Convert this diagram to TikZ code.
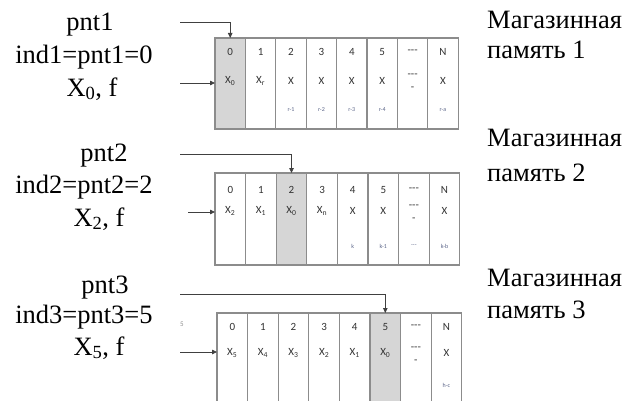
\documentclass[tikz,border=0pt]{standalone}
\usepackage{fontspec}
\setmainfont{Liberation Serif}
\newfontfamily\cellfont{Carlito}
\usetikzlibrary{arrows.meta}
\definecolor{boxgray}{HTML}{8C8C8C}
\definecolor{cellgray}{HTML}{D6D6D6}
\definecolor{celltxt}{HTML}{333333}
\definecolor{subtxt}{HTML}{5A6488}
\definecolor{arrowc}{HTML}{404040}
\newcommand\xsub[1]{X\textsubscript{#1}}
\newcommand\memory[6]{%
  \foreach \i in {0,...,7}{%
    \ifnum\i=#6\relax\def\cf{cellgray}\else\def\cf{white}\fi
    \node[cellbox,fill=\cf,minimum width=#4pt,minimum height=#5pt] (#1c\i) at ({#2+(\i+0.5)*#4},{#3+#5/2}) {};
  }}
\begin{document}
\begin{tikzpicture}[x=1pt,y=-1pt,
  cellbox/.style={draw=boxgray,line width=1.2pt,inner sep=0pt,outer sep=0pt},
  numtxt/.style={font=\cellfont\fontsize{11}{11}\selectfont,text=celltxt,inner sep=0pt},
  smalltxt/.style={font=\cellfont\fontsize{6}{6}\selectfont,text=subtxt,inner sep=0pt},
  lefttxt/.style={font=\fontsize{26.5}{30}\selectfont,anchor=base,inner sep=0pt},
  righttxt/.style={font=\fontsize{26.5}{30}\selectfont,anchor=base west,inner sep=0pt},
  arr/.style={draw=arrowc,line width=0.8pt,-{Triangle[length=5pt,width=4.5pt]}}]
\useasboundingbox (0,0) rectangle (631,401);
\fill[white] (0,0) rectangle (631,401);

% ---------- memory 1
\memory{m1}{215}{38}{30.4}{91}{0}
\foreach \i/\t in {0/0,1/1,2/2,3/3,4/4,5/5,6/---,7/N}
  \node[numtxt] (m1n\i) at ([yshift=-14pt]m1c\i.north) {\t};
\foreach \i/\t in {0/{\xsub{0}},1/{\xsub{r}},2/X,3/X,4/X,5/X,7/X}
  \node[numtxt] (m1x\i) at ([yshift=-43pt]m1c\i.north) {\t};
\node[numtxt] (m1x6) at ([yshift=-38pt]m1c6.north) {---};
\node[numtxt] (m1d6) at ([yshift=-51pt]m1c6.north) {-};
\foreach \i/\t in {2/r-1,3/r-2,4/r-3,5/r-4,7/r-a}
  \node[smalltxt] (m1s\i) at ([yshift=-72pt]m1c\i.north) {\t};

% ---------- memory 2
\memory{m2}{215}{173}{30.6}{92}{2}
\foreach \i/\t in {0/0,1/1,2/2,3/3,4/4,5/5,6/---,7/N}
  \node[numtxt] (m2n\i) at ([yshift=-17pt]m2c\i.north) {\t};
\foreach \i/\t in {0/{\xsub{2}},1/{\xsub{1}},2/{\xsub{0}},3/{\xsub{n}},4/X,5/X,7/X}
  \node[numtxt] (m2x\i) at ([yshift=-38pt]m2c\i.north) {\t};
\node[numtxt] (m2x6) at ([yshift=-34pt]m2c6.north) {---};
\node[numtxt] (m2d6) at ([yshift=-47pt]m2c6.north) {-};
\foreach \i/\t in {4/k,5/k-1,6/---,7/k-b}
  \node[smalltxt] (m2s\i) at ([yshift=-73pt]m2c\i.north) {\t};

% ---------- memory 3
\memory{m3}{217}{313}{30.6}{92}{5}
\foreach \i/\t in {0/0,1/1,2/2,3/3,4/4,5/5,6/---,7/N}
  \node[numtxt] (m3n\i) at ([yshift=-14pt]m3c\i.north) {\t};
\foreach \i/\t in {0/{\xsub{5}},1/{\xsub{4}},2/{\xsub{3}},3/{\xsub{2}},4/{\xsub{1}},5/{\xsub{0}},7/X}
  \node[numtxt] (m3x\i) at ([yshift=-40pt]m3c\i.north) {\t};
\node[numtxt] (m3x6) at ([yshift=-36pt]m3c6.north) {---};
\node[numtxt] (m3d6) at ([yshift=-49pt]m3c6.north) {-};
\node[smalltxt] (m3s7) at ([yshift=-72pt]m3c7.north) {h-c};
\node[numtxt,text=boxgray,font=\cellfont\fontsize{7}{7}\selectfont] (stray) at (182,324) {5};

% ---------- arrows
\coordinate (t1) at (180,22);
\coordinate (s1) at (180,83);
\draw[arr] (t1) -| (m1c0.north);
\draw[arr] (s1) -- (s1 -| m1c0.west);
\coordinate (t2) at (180,154);
\coordinate (s2) at (188,212);
\draw[arr] (t2) -| (m2c2.north);
\draw[arr] (s2) -- (s2 -| m2c0.west);
\coordinate (t3) at (180,294);
\coordinate (s3) at (180,352);
\draw[arr] (t3) -| (m3c5.north);
\draw[arr] (s3) -- (s3 -| m3c0.west);

% ---------- left texts
\node[lefttxt] (p1) at (90,31) {pnt1};
\node[lefttxt] (i1) at (84,64) {ind1=pnt1=0};
\node[lefttxt] (x1) at (92,96) {X\textsubscript{0}, f};
\node[lefttxt] (p2) at (104,161) {pnt2};
\node[lefttxt] (i2) at (84,193) {ind2=pnt2=2};
\node[lefttxt] (x2) at (99,226) {X\textsubscript{2}, f};
\node[lefttxt] (p3) at (105,293) {pnt3};
\node[lefttxt] (i3) at (84,323) {ind3=pnt3=5};
\node[lefttxt] (x3) at (99,355) {X\textsubscript{5}, f};

% ---------- right texts
\node[righttxt] (r1a) at (487,29) {Магазинная};
\node[righttxt] (r1b) at (487,59) {память 1};
\node[righttxt] (r2a) at (487,146) {Магазинная};
\node[righttxt] (r2b) at (487,181) {память 2};
\node[righttxt] (r3a) at (487,286) {Магазинная};
\node[righttxt] (r3b) at (487,318) {память 3};
\end{tikzpicture}
\end{document}
